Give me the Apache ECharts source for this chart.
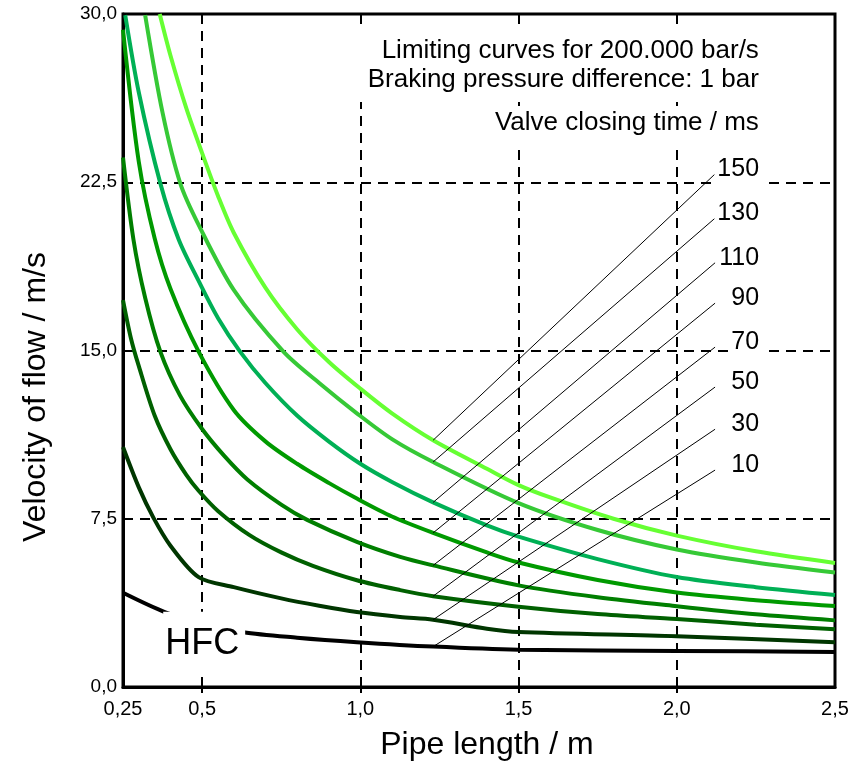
<!DOCTYPE html>
<html>
<head>
<meta charset="utf-8">
<script src="https://cdn.jsdelivr.net/npm/echarts@6/dist/echarts.min.js"></script>
<style>
  html, body { margin: 0; padding: 0; background: #fff; }
  #chart { width: 863px; height: 762px; }
</style>
</head>
<body>
<div id="chart"></div>
<script>
// Valve closing time (ms) of each limiting curve, top curve first
const closingTimes = [150, 130, 110, 90, 70, 50, 30, 10];

// Limiting curves: [pipe length / m, velocity of flow / m/s]
const curve150 = [[0.366, 30.0], [0.4, 28.15], [0.45, 25.8], [0.5, 23.8], [0.55, 21.9], [0.6, 20.25], [0.7, 17.8], [0.8, 15.95], [0.9, 14.5], [1.0, 13.3], [1.1, 12.2], [1.23, 11.0], [1.4, 9.73], [1.5, 9.0], [1.6, 8.45], [1.8, 7.5], [2.0, 6.75], [2.25, 6.05], [2.5, 5.53]];
const curve130 = [[0.32, 29.95], [0.375, 25.6], [0.431, 22.45], [0.489, 20.6], [0.6, 17.7], [0.757, 14.95], [0.87, 13.55], [0.989, 12.2], [1.1, 11.05], [1.23, 10.03], [1.5, 8.2], [1.75, 7.0], [2.0, 6.13], [2.25, 5.55], [2.5, 5.1]];
const curve110 = [[0.257, 29.95], [0.3, 26.5], [0.368, 22.45], [0.426, 19.95], [0.489, 18.1], [0.55, 16.45], [0.62, 14.95], [0.7, 13.55], [0.8, 12.1], [0.9, 10.95], [1.0, 9.95], [1.1, 9.14], [1.23, 8.23], [1.4, 7.2], [1.5, 6.7], [1.75, 5.7], [2.0, 4.9], [2.25, 4.45], [2.5, 4.1]];
const curve90 = [[0.25, 29.3], [0.3, 23.4], [0.35, 20.0], [0.4, 17.75], [0.489, 14.95], [0.6, 12.35], [0.7, 10.95], [0.8, 9.95], [0.9, 9.1], [0.989, 8.4], [1.1, 7.6], [1.23, 6.87], [1.4, 6.0], [1.5, 5.55], [1.75, 4.77], [2.0, 4.21], [2.25, 3.87], [2.5, 3.61]];
const curve70 = [[0.25, 23.6], [0.283, 19.95], [0.32, 17.35], [0.368, 14.95], [0.43, 13.0], [0.5, 11.5], [0.57, 10.3], [0.643, 9.25], [0.75, 8.13], [0.832, 7.45], [0.989, 6.47], [1.126, 5.8], [1.23, 5.42], [1.5, 4.53], [1.75, 4.0], [2.0, 3.6], [2.25, 3.24], [2.5, 2.97]];
const curve50 = [[0.25, 17.25], [0.275, 15.55], [0.3, 14.3], [0.35, 12.1], [0.4, 10.6], [0.45, 9.46], [0.489, 8.75], [0.55, 7.85], [0.65, 6.77], [0.75, 6.0], [0.85, 5.4], [0.989, 4.76], [1.126, 4.32], [1.23, 4.05], [1.5, 3.58], [1.75, 3.25], [2.0, 3.03], [2.25, 2.78], [2.5, 2.57]];
const curve30 = [[0.25, 10.7], [0.3, 8.9], [0.346, 7.55], [0.4, 6.3], [0.489, 4.9], [0.6, 4.45], [0.75, 3.95], [0.87, 3.62], [0.989, 3.34], [1.126, 3.12], [1.23, 3.0], [1.4, 2.6], [1.5, 2.45], [2.0, 2.26], [2.5, 1.99]];
const curve10 = [[0.25, 4.2], [0.384, 3.33], [0.5, 2.85], [0.63, 2.44], [0.8, 2.2], [0.989, 2.0], [1.23, 1.8], [1.5, 1.66], [2.0, 1.61], [2.5, 1.56]];

const curves = [curve150, curve130, curve110, curve90, curve70, curve50, curve30, curve10];

// Axis ticks
const xLabelValues = [0.25, 0.5, 1.0, 1.5, 2.0, 2.5];
const xGridValues = [0.5, 1.0, 1.5, 2.0];
const yInterval = 7.5;

// Styling
const FONT = '"Liberation Sans", Arial, Helvetica, sans-serif';
const curveColors = ['#66ff33', '#36c936', '#00b055', '#009a00', '#007f00', '#006000', '#003600', '#000000'];

// Leader lines run from each curve (at LEADER_L) up to its label anchor
const LEADER_L = 1.23;
const anchorL = 2.121;
const anchorV = [22.87, 20.9, 18.91, 17.11, 15.15, 13.37, 11.49, 9.67];

const decimalComma = v => (v === 0.25 ? '0,25' : v.toFixed(1).replace('.', ','));

const chart = echarts.init(document.getElementById('chart'), null, { renderer: 'canvas' });

const curveSeries = curves.map((data, i) => ({
  type: 'line',
  name: String(closingTimes[i]),
  data: data,
  smooth: 0.3,
  showSymbol: false,
  symbol: 'none',
  clip: true,
  silent: true,
  z: 4,
  lineStyle: { color: curveColors[i], width: 4 }
}));

const leaderSeries = curves.map((data, i) => {
  const onCurve = data.find(p => p[0] === LEADER_L);
  return {
    type: 'line',
    name: 'leader ' + closingTimes[i],
    data: [[LEADER_L, onCurve[1]], [anchorL, anchorV[i]]],
    showSymbol: false,
    symbol: 'none',
    silent: true,
    z: 5,
    lineStyle: { color: '#000', width: 1 }
  };
});

const option = {
  animation: false,
  backgroundColor: '#fff',
  textStyle: { fontFamily: FONT },
  grid: {
    left: 123, right: 28, top: 14, bottom: 75,
    show: true, borderColor: '#000', borderWidth: 3
  },
  xAxis: {
    type: 'value',
    min: 0.25,
    max: 2.5,
    axisLine: { show: true, onZero: false, lineStyle: { color: '#000', width: 3 } },
    axisTick: { show: true, customValues: xGridValues, length: 6, lineStyle: { color: '#000', width: 2 } },
    axisLabel: {
      customValues: xLabelValues,
      formatter: decimalComma,
      fontSize: 20, color: '#000', margin: 12, fontFamily: FONT,
      showMinLabel: true, showMaxLabel: true
    },
    splitLine: { show: true, lineStyle: { color: '#000', width: 2, type: [10, 7] } }
  },
  yAxis: {
    type: 'value',
    min: 0,
    max: 30,
    interval: yInterval,
    axisLine: { show: true, lineStyle: { color: '#000', width: 3 } },
    axisTick: { show: false },
    axisLabel: {
      formatter: v => v.toFixed(1).replace('.', ','),
      fontSize: 19, color: '#000', margin: 6, fontFamily: FONT
    },
    splitLine: { show: true, lineStyle: { color: '#000', width: 2, type: [10, 7] } }
  },
  series: [...curveSeries, ...leaderSeries]
};

chart.setOption(option);

// Text annotations placed on the axes' coordinate system
const toPx = (l, v) => chart.convertToPixel({ gridIndex: 0 }, [l, v]);
const graphics = [];

const labelFont = 'normal 25px ' + FONT;
closingTimes.forEach((t, i) => {
  const p = toPx(anchorL, anchorV[i]);
  graphics.push({
    type: 'text',
    x: p[0] + 48,
    y: p[1] - 5,
    z: 20,
    style: {
      text: String(t),
      font: labelFont,
      fill: '#000',
      align: 'right',
      verticalAlign: 'middle',
      backgroundColor: '#fff',
      padding: [3, 4, 3, 3]
    }
  });
});

const rightEdge = toPx(2.272, 0)[0];
const headerFont = 'normal 26px ' + FONT;
graphics.push({
  type: 'text',
  x: rightEdge,
  y: 26,
  z: 20,
  style: {
    text: 'Limiting curves for 200.000 bar/s\nBraking pressure difference: 1 bar',
    font: headerFont,
    lineHeight: 29,
    fill: '#000',
    align: 'right',
    verticalAlign: 'top',
    backgroundColor: '#fff',
    padding: [10, 4, 8, 18]
  }
});
graphics.push({
  type: 'text',
  x: rightEdge,
  y: 106,
  z: 20,
  style: {
    text: 'Valve closing time / ms',
    font: headerFont,
    lineHeight: 30,
    fill: '#000',
    align: 'right',
    verticalAlign: 'top',
    backgroundColor: '#fff',
    padding: [2, 4, 9, 4]
  }
});

const hfc = toPx(0.377, 1.93);
graphics.push({
  type: 'text',
  x: hfc[0],
  y: hfc[1],
  z: 20,
  style: {
    text: 'HFC',
    font: 'normal 36px ' + FONT,
    fill: '#000',
    align: 'left',
    verticalAlign: 'middle',
    backgroundColor: '#fff',
    padding: [26, 6, 2, 2]
  }
});

// Axis titles
graphics.push({
  type: 'text',
  x: 487,
  y: 745,
  z: 20,
  style: {
    text: 'Pipe length / m',
    font: 'normal 32px ' + FONT,
    fill: '#000',
    align: 'center',
    verticalAlign: 'middle'
  }
});
graphics.push({
  type: 'text',
  x: 36,
  y: 397,
  rotation: Math.PI / 2,
  z: 20,
  style: {
    text: 'Velocity of flow / m/s',
    font: 'normal 32px ' + FONT,
    fill: '#000',
    align: 'center',
    verticalAlign: 'middle'
  }
});

chart.setOption({ graphic: graphics });
</script>
</body>
</html>
